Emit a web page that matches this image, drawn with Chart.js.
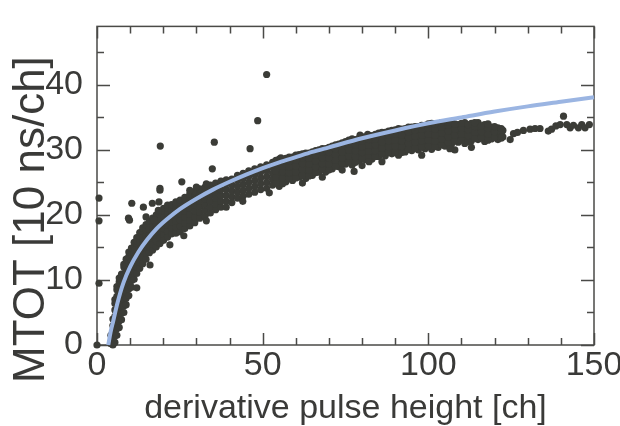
<!DOCTYPE html>
<html>
<head>
<meta charset="utf-8">
<script src="https://cdn.jsdelivr.net/npm/chart.js@4.4.1/dist/chart.umd.min.js"></script>
<style>
  html, body { margin: 0; padding: 0; background: #fff; }
  #wrap { width: 620px; height: 426px; }
</style>
</head>
<body>
<div id="wrap"><canvas id="chart" width="620" height="426"></canvas></div>
<script>
// fitted curve
const fitX = [3.4, 4.1, 4.9, 6, 7, 8, 10, 12.5, 15, 18, 21, 25, 30, 35, 40, 45, 50, 55, 60, 65, 70, 80, 90, 100, 110, 120, 130, 140, 150];
const fitY = [0, 2, 3.7, 6.1, 8, 9.6, 12, 14.3, 16.1, 17.9, 19.3, 20.9, 22.5, 23.9, 25.1, 26.2, 27.2, 28.1, 28.9, 29.7, 30.4, 31.8, 33, 34.1, 35, 35.9, 36.7, 37.4, 38.1];

// dense band of measurements: one x per column, the MTOT values seen in it
const bandX = [4.2, 4.8, 5.4, 6.0, 6.7, 7.4, 8.1, 8.8, 9.6, 10.4, 11.2, 12.0, 12.9, 13.8, 14.8, 15.8, 16.8, 17.9, 19.0, 20.1,
  21.3, 22.5, 23.8, 25.1, 26.5, 28.0, 29.5, 31.0, 32.6, 34.2, 35.8, 37.4, 39.0, 40.7, 42.4, 44.1, 45.8, 47.6, 49.4, 51.2,
  53, 55, 57, 59, 61, 63, 65, 67, 69, 71, 73, 75, 77, 79, 81, 83, 85, 87, 89, 91,
  93, 95, 97, 99, 101, 103, 105, 107, 109, 111, 113, 115, 117, 119, 121, 122.5];
const bandY = [
  [0.2, 1.5],
  [0, 1, 2, 3, 4],
  [0.4, 1.4, 2.4, 3.4, 4.4, 5.4, 6.4, 7],
  [1.5, 2.5, 3.5, 4.5, 5.5, 6.5, 7.5, 8.5, 9],
  [2.7, 3.7, 4.7, 5.7, 6.7, 7.7, 8.7, 9.7, 10.3],
  [3.9, 4.9, 5.9, 6.9, 7.9, 8.9, 9.9, 10.9],
  [5, 6, 7, 8, 9, 10, 11, 12, 12.4],
  [6.2, 7.2, 8.2, 9.2, 10.2, 11.2, 12.2, 13.2],
  [7.6, 8.6, 9.6, 10.6, 11.6, 12.6, 13.6, 14.3],
  [8.9, 9.9, 10.9, 11.9, 12.9, 13.9, 14.9],
  [10.1, 11.1, 12.1, 13.1, 14.1, 15.1, 15.8],
  [11, 12, 13, 14, 15, 16, 16.5],
  [11.8, 12.8, 13.8, 14.8, 15.8, 16.8, 17.3],
  [12.5, 13.5, 14.5, 15.5, 16.5, 17.5, 18],
  [13.2, 14.1, 15, 15.9, 16.8, 17.7, 18.5],
  [14.2, 15.1, 16, 16.9, 17.8, 18.7, 19],
  [14.6, 15.5, 16.4, 17.3, 18.2, 19.1, 19.5],
  [15.1, 16, 16.9, 17.8, 18.7, 19.6, 20],
  [15.6, 16.5, 17.4, 18.3, 19.2, 20.1, 20.5],
  [16.1, 17, 17.9, 18.8, 19.7, 20.6, 21],
  [16.6, 17.5, 18.4, 19.3, 20.2, 21.1, 21.5],
  [17.1, 18, 18.9, 19.8, 20.7, 21.6],
  [17.2, 18.1, 19, 19.9, 20.8, 21.7, 22],
  [17.4, 18.3, 19.2, 20.1, 21, 21.9, 22.3],
  [17.9, 18.8, 19.7, 20.6, 21.5, 22.4, 22.7],
  [18.3, 19.2, 20.1, 21, 21.9, 22.8, 23.2],
  [18.8, 19.7, 20.6, 21.5, 22.4, 23.3, 23.6],
  [19.5, 20.4, 21.3, 22.2, 23.1, 24],
  [19.8, 20.7, 21.6, 22.5, 23.4, 24.3],
  [20.3, 21.2, 22.1, 23, 23.9, 24.6],
  [20.8, 21.7, 22.6, 23.5, 24.4, 24.9],
  [21.2, 22.1, 23, 23.9, 24.8, 25.2],
  [21.2, 22.1, 23, 23.9, 24.8, 25.4],
  [21.9, 22.8, 23.7, 24.6, 25.5],
  [22.6, 23.5, 24.4, 25.3, 26.1],
  [22.9, 23.8, 24.7, 25.6, 26.4],
  [23.2, 24.1, 25, 25.9, 26.8],
  [23.5, 24.4, 25.3, 26.2, 27.1],
  [23.9, 24.8, 25.7, 26.6, 27.4],
  [24.1, 25, 25.9, 26.8, 27.7],
  [24.6, 25.5, 26.4, 27.3, 28.1],
  [24.4, 25.3, 26.2, 27.1, 28, 28.6],
  [25.1, 26, 26.9, 27.8, 28.7],
  [25.3, 26.2, 27.1, 28, 28.9],
  [25.8, 26.7, 27.6, 28.5, 29.3],
  [25.6, 26.5, 27.4, 28.3, 29.2, 29.5],
  [26.1, 27, 27.9, 28.8, 29.7],
  [26.6, 27.5, 28.4, 29.3, 30],
  [26.6, 27.5, 28.4, 29.3, 30.2],
  [27.1, 28, 28.9, 29.8, 30.6],
  [27.4, 28.3, 29.2, 30.1, 30.9],
  [27.8, 28.7, 29.6, 30.5, 31.3],
  [27.7, 28.6, 29.5, 30.4, 31.3, 31.7],
  [28.3, 29.2, 30.1, 31, 31.8],
  [28.5, 29.4, 30.3, 31.2, 32],
  [28.6, 29.5, 30.4, 31.3, 32.2],
  [29, 29.9, 30.8, 31.7, 32.6],
  [29.1, 30, 30.9, 31.8, 32.7],
  [29.4, 30.3, 31.2, 32.1, 33],
  [29.2, 30.1, 31, 31.9, 32.8, 33.3],
  [29.7, 30.6, 31.5, 32.4, 33.3],
  [29.9, 30.8, 31.7, 32.6, 33.5],
  [30, 30.9, 31.8, 32.7, 33.6],
  [30.2, 31.1, 32, 32.9, 33.8],
  [30.1, 31, 31.9, 32.8, 33.7, 34.1],
  [30.4, 31.3, 32.2, 33.1, 34],
  [30.6, 31.5, 32.4, 33.3, 34.2],
  [30.9, 31.8, 32.7, 33.6, 34.3],
  [31.2, 32.1, 33, 33.9],
  [31, 31.9, 32.8, 33.7, 34.2],
  [31.4, 32.3, 33.2, 34.1],
  [31.6, 32.5, 33.4, 34.2],
  [31.3, 32.2, 33.1, 33.9],
  [31.7, 32.6, 33.5],
  [31.6, 32.5, 33.4],
  [32, 33]
];

// in-between columns of the same band (x > 53)
const bandX2 = [54, 56, 58, 60, 62, 64, 66, 68, 70, 72, 74, 76, 78, 80, 82, 84, 86, 88, 90, 92,
  94, 96, 98, 100, 102, 104, 106, 108, 110, 112, 114, 116, 118, 120, 122];
const bandY2 = [
  [24.9, 25.8, 26.7, 27.6, 28.4],
  [24.8, 25.7, 26.6, 27.5, 28.4],
  [25.6, 26.5, 27.4, 28.3, 28.9],
  [25.7, 26.6, 27.5, 28.4, 29.2],
  [26.1, 27, 27.9, 28.8, 29.4],
  [26, 26.9, 27.8, 28.7, 29.5],
  [26.5, 27.4, 28.3, 29.2, 29.9],
  [27, 27.9, 28.8, 29.7, 30.2],
  [26.9, 27.8, 28.7, 29.6, 30.4],
  [27.5, 28.4, 29.3, 30.2, 30.8],
  [27.9, 28.8, 29.7, 30.6, 31.1],
  [28.2, 29.1, 30, 30.9, 31.5],
  [28.1, 29, 29.9, 30.8, 31.6],
  [28.7, 29.6, 30.5, 31.4, 32],
  [28.9, 29.8, 30.7, 31.6, 32.2],
  [29, 29.9, 30.8, 31.7, 32.4],
  [29.4, 30.3, 31.2, 32.1, 32.7],
  [29.6, 30.5, 31.4, 32.3, 32.9],
  [29.7, 30.6, 31.5, 32.4, 33.1],
  [29.6, 30.5, 31.4, 32.3, 33.2],
  [30.1, 31, 31.9, 32.8, 33.5],
  [30.3, 31.2, 32.1, 33, 33.6],
  [30.5, 31.4, 32.3, 33.2, 33.8],
  [30.6, 31.5, 32.4, 33.3, 34],
  [30.5, 31.4, 32.3, 33.2, 34],
  [30.8, 31.7, 32.6, 33.5, 34.2],
  [31.1, 32, 32.9, 33.8, 34.3],
  [31.4, 32.3, 33.2, 34],
  [31.5, 32.4, 33.3, 34.1],
  [31.3, 32.2, 33.1, 33.9],
  [31.8, 32.7, 33.6, 34.2],
  [31.9, 32.8, 33.7],
  [31.5, 32.4, 33.3, 34],
  [31.9, 32.8, 33.6],
  [31.8, 32.7, 33.3]
];

// loose points along the band edges
const edgeX = [12, 16, 22, 26.2, 33, 44, 52, 62, 68, 74, 80, 86, 98, 108, 113, 55.5, 79.4, 81.7, 28, 30, 33, 11.5];
const edgeY = [8.8, 12.3, 15.4, 16.8, 19.1, 22.1, 23.4, 24.9, 25.8, 26.9, 27.6, 28.2, 29.2, 30, 30.4, 28.8, 32.3, 32.4, 23.8, 24.3, 24.8, 14.6];

// isolated outliers and the sparse tail at high pulse height
const outX = [0, 0.6, 0.6, 0.6, 9.5, 9.8, 10.5, 14, 14.8, 16.7, 17.3, 18.5, 18.7, 19, 19, 19.1, 25.6, 34.8, 35.4, 46.2, 48.5, 51.2, 77.6, 82.1, 106.5,
  122.1, 124.7, 125.7, 126.9, 128.7, 130.7, 132.2, 133.7, 136.2, 137.2, 138.5, 139.8, 140.8, 141.8, 142.8, 143.8, 145.3, 146.3, 147.3, 148.6];
const outY = [0, 9.5, 19.1, 22.6, 19.5, 19.2, 21.8, 21.2, 19.7, 21.8, 19.2, 20.7, 22, 23.8, 24.1, 30.6, 25.1, 27.1, 31.2, 30.2, 34.5, 41.6, 26.7, 28.2, 30.2,
  32.0, 31.6, 32.5, 32.7, 33.0, 33.2, 33.3, 33.3, 32.9, 33.2, 33.7, 33.9, 35.2, 33.9, 33.4, 33.8, 33.4, 33.9, 33.4, 33.9];

const xTicks = [0, 50, 100, 150];
const yTicks = [0, 10, 20, 30, 40];

const points = [];
bandX.forEach((x, i) => bandY[i].forEach(y => points.push({ x, y })));
bandX2.forEach((x, i) => bandY2[i].forEach(y => points.push({ x, y })));
edgeX.forEach((x, i) => points.push({ x, y: edgeY[i] }));
outX.forEach((x, i) => points.push({ x, y: outY[i] }));
const fit = fitX.map((x, i) => ({ x, y: fitY[i] }));

const textColor = '#3a3a38';
const axisColor = '#4a4a47';
const fontFamily = 'Liberation Sans, Arial, sans-serif';

// box round the plot with inward ticks on all four sides
const framePlugin = {
  id: 'frame',
  beforeDatasetsDraw(chart) {
    const { ctx, chartArea: a, scales: { x, y } } = chart;
    ctx.save();
    ctx.strokeStyle = axisColor;
    ctx.lineWidth = 1.5;
    ctx.strokeRect(a.left, a.top, a.right - a.left, a.bottom - a.top);
    ctx.beginPath();
    for (let v = 0; v <= 45; v += 5) {
      const py = Math.round(y.getPixelForValue(v)) + 0.5;
      const len = v % 10 === 0 ? 13 : 7;
      ctx.moveTo(a.left, py); ctx.lineTo(a.left + len, py);
      ctx.moveTo(a.right, py); ctx.lineTo(a.right - len, py);
    }
    for (let v = 0; v <= 150; v += 10) {
      const px = Math.round(x.getPixelForValue(v)) + 0.5;
      const len = v % 50 === 0 ? 12 : 7;
      ctx.moveTo(px, a.bottom); ctx.lineTo(px, a.bottom - len);
      ctx.moveTo(px, a.top); ctx.lineTo(px, a.top + len);
    }
    ctx.stroke();
    ctx.restore();
  },
  // y title sits lower than the plot centre, so it is placed by hand
  afterDraw(chart) {
    const { ctx } = chart;
    ctx.save();
    ctx.translate(44, 383);
    ctx.rotate(-Math.PI / 2);
    ctx.fillStyle = textColor;
    ctx.font = '44px ' + fontFamily;
    ctx.textAlign = 'left';
    ctx.textBaseline = 'alphabetic';
    ctx.fillText('MTOT [10 ns/ch]', 0, 0);
    ctx.restore();
  }
};

new Chart(document.getElementById('chart'), {
  type: 'scatter',
  data: {
    datasets: [
      {
        data: fit,
        showLine: true,
        borderColor: '#9bb5e2',
        borderWidth: 4,
        pointRadius: 0,
        cubicInterpolationMode: 'monotone',
        clip: false,
        order: 0
      },
      {
        data: points,
        backgroundColor: '#3b3c37',
        borderWidth: 0,
        pointRadius: 3.6,
        clip: false,
        order: 1
      }
    ]
  },
  options: {
    responsive: false,
    animation: false,
    devicePixelRatio: 1,
    layout: { padding: { left: 0, top: 10, right: 26, bottom: 0 } },
    plugins: { legend: { display: false }, tooltip: { enabled: false } },
    scales: {
      x: {
        type: 'linear',
        min: 0,
        max: 150,
        grid: { display: false },
        border: { display: false },
        afterFit(scale) { scale.height = 81; },
        afterBuildTicks(scale) { scale.ticks = xTicks.map(v => ({ value: v })); },
        ticks: {
          color: textColor,
          font: { family: fontFamily, size: 34 },
          padding: -8,
          maxRotation: 0
        },
        title: {
          display: true,
          text: 'derivative pulse height [ch]',
          color: textColor,
          font: { family: fontFamily, size: 34, lineHeight: 1 },
          padding: { top: 0, bottom: 0 }
        }
      },
      y: {
        type: 'linear',
        min: 0,
        max: 49,
        grid: { display: false },
        border: { display: false },
        afterFit(scale) { scale.width = 97; },
        afterBuildTicks(scale) { scale.ticks = yTicks.map(v => ({ value: v })); },
        ticks: {
          color: textColor,
          font: { family: fontFamily, size: 34 },
          padding: 6
        },
        title: { display: false }
      }
    }
  },
  plugins: [framePlugin]
});
</script>
</body>
</html>
